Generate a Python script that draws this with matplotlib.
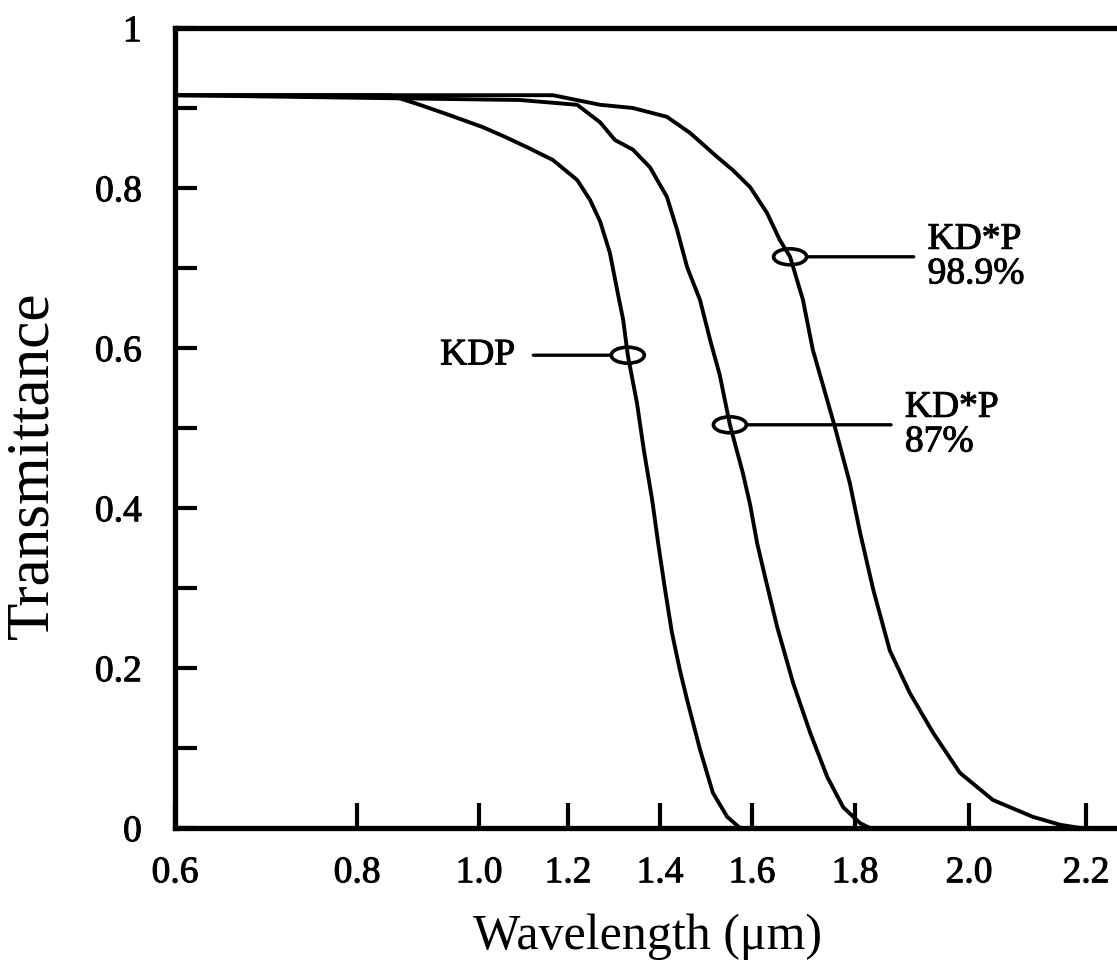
import numpy as np
import matplotlib
matplotlib.use("Agg")
import matplotlib.pyplot as plt
import matplotlib.patheffects as pe
from matplotlib.patches import Ellipse
from matplotlib.transforms import ScaledTranslation

plt.rcParams['font.family'] = ['Liberation Serif', 'DejaVu Serif']

# wavelength axis of the original instrument chart is not linear:
# positions of the labelled wavelengths along the axis
tick_wl = [0.6, 0.8, 1.0, 1.2, 1.4, 1.6, 1.8, 2.0, 2.2]
axis_pos = [0.0, 182.0, 304.0, 393.0, 485.0, 577.0, 680.0, 794.0, 911.0]

# transmittance curves (wavelength in um, transmittance)
kdp_wl = [0.60, 0.854, 0.903, 0.952, 1.009, 1.058, 1.108, 1.166, 1.220, 1.248,
          1.270, 1.291, 1.307, 1.320, 1.330, 1.350, 1.365, 1.383, 1.396, 1.411,
          1.426, 1.443, 1.459, 1.487, 1.515, 1.546, 1.574]
kdp_t = [0.916, 0.916, 0.904, 0.891, 0.876, 0.864, 0.851, 0.835, 0.810, 0.785,
         0.758, 0.719, 0.672, 0.635, 0.591, 0.531, 0.472, 0.410, 0.356, 0.298,
         0.244, 0.198, 0.160, 0.098, 0.044, 0.014, 0.0]

kdp87_wl = [0.60, 1.092, 1.220, 1.270, 1.302, 1.341, 1.378, 1.415, 1.437, 1.459,
            1.487, 1.509, 1.530, 1.552, 1.580, 1.596, 1.610, 1.629, 1.649, 1.680,
            1.713, 1.746, 1.777, 1.809, 1.826]
kdp87_t = [0.916, 0.910, 0.904, 0.882, 0.860, 0.848, 0.826, 0.789, 0.748, 0.701,
           0.660, 0.610, 0.566, 0.504, 0.444, 0.404, 0.356, 0.304, 0.251, 0.181,
           0.119, 0.064, 0.026, 0.006, 0.0]

kdp989_wl = [0.60, 1.166, 1.270, 1.341, 1.415, 1.465, 1.524, 1.559, 1.596, 1.629,
             1.654, 1.674, 1.699, 1.718, 1.746, 1.761, 1.790, 1.809, 1.832, 1.861,
             1.896, 1.937, 1.984, 2.041, 2.109, 2.156, 2.190]
kdp989_t = [0.916, 0.916, 0.904, 0.900, 0.889, 0.869, 0.839, 0.822, 0.801, 0.769,
            0.735, 0.714, 0.660, 0.598, 0.535, 0.501, 0.431, 0.369, 0.298, 0.222,
            0.169, 0.119, 0.069, 0.035, 0.014, 0.004, 0.0]

# labelled points on each curve
labels = ["KDP", "KD*P\n87%", "KD*P\n98.9%"]
label_wl = [1.330, 1.552, 1.674]
label_t = [0.591, 0.504, 0.714]

# slightly heavier glyphs, like a printed figure
ink = [pe.withStroke(linewidth=0.7, foreground='black')]


def _extrap_interp(x, xp, fp):
    x = np.asarray(x, dtype=float)
    y = np.interp(x, xp, fp)
    lo_slope = (fp[1] - fp[0]) / (xp[1] - xp[0])
    hi_slope = (fp[-1] - fp[-2]) / (xp[-1] - xp[-2])
    y = np.where(x < xp[0], fp[0] + (x - xp[0]) * lo_slope, y)
    y = np.where(x > xp[-1], fp[-1] + (x - xp[-1]) * hi_slope, y)
    return y


def forward(x):
    return _extrap_interp(x, tick_wl, axis_pos)


def inverse(p):
    return _extrap_interp(p, axis_pos, tick_wl)


fig = plt.figure(figsize=(11.17, 9.65), dpi=100)
ax = fig.add_axes([175 / 1117, 137 / 965, 942 / 1117, 800 / 965])
ax.set_xscale('function', functions=(forward, inverse))
ax.set_xlim(0.6, 2.253)
ax.set_ylim(0, 1)

lw = 2.8
for wl, t in [(kdp_wl, kdp_t), (kdp87_wl, kdp87_t), (kdp989_wl, kdp989_t)]:
    ax.plot(wl, t, color='black', lw=lw, solid_joinstyle='round',
            solid_capstyle='round')

# ellipse markers with leader lines and labels
offsets = [(-81, 0), (126, 0), (99, 0)]
for text, wl, t, off in zip(labels, label_wl, label_t, offsets):
    tr = fig.dpi_scale_trans + ScaledTranslation(wl, t, ax.transData)
    ax.add_patch(Ellipse((0, 0), 0.33, 0.16, transform=tr, fill=False,
                         edgecolor='black', lw=2.6, zorder=4))
    right = off[0] > 0
    ann = ax.annotate(text, xy=(wl, t), xytext=off, textcoords='offset points',
                      ha='left' if right else 'right', va='center', fontsize=27,
                      linespacing=1.0,
                      arrowprops=dict(arrowstyle='-', lw=2.4, color='black',
                                      relpos=(0, 0.5) if right else (1, 0.5),
                                      shrinkA=8 if right else 11, shrinkB=12))
    ann.set_path_effects(ink)

# axes styling
for side in ['left', 'bottom', 'top']:
    ax.spines[side].set_linewidth(3.8)
ax.spines['right'].set_visible(False)

ax.set_xticks(tick_wl)
ax.set_xticklabels(['%.1f' % v for v in tick_wl])
ax.set_yticks([0, 0.2, 0.4, 0.6, 0.8, 1.0])
ax.set_yticklabels(['0', '0.2', '0.4', '0.6', '0.8', '1'])
ax.set_yticks([0.1, 0.3, 0.5, 0.7, 0.9], minor=True)
ax.xaxis.set_minor_locator(matplotlib.ticker.NullLocator())
ax.tick_params(axis='x', direction='in', length=18, width=3, pad=20,
               labelsize=27, top=False)
ax.tick_params(axis='y', which='both', direction='in', length=16, width=3,
               pad=24, labelsize=27, right=False)
for lab in ax.get_xticklabels() + ax.get_yticklabels():
    lab.set_path_effects(ink)

fig.text(33 / 1117, 1 - 465 / 965, 'Transmittance', rotation=90,
         ha='center', va='center', fontsize=44)
fig.text(648 / 1117, 1 - 937 / 965, 'Wavelength (\u03bcm)',
         ha='center', va='center', fontsize=36)

fig.savefig('out.png', dpi=100)
